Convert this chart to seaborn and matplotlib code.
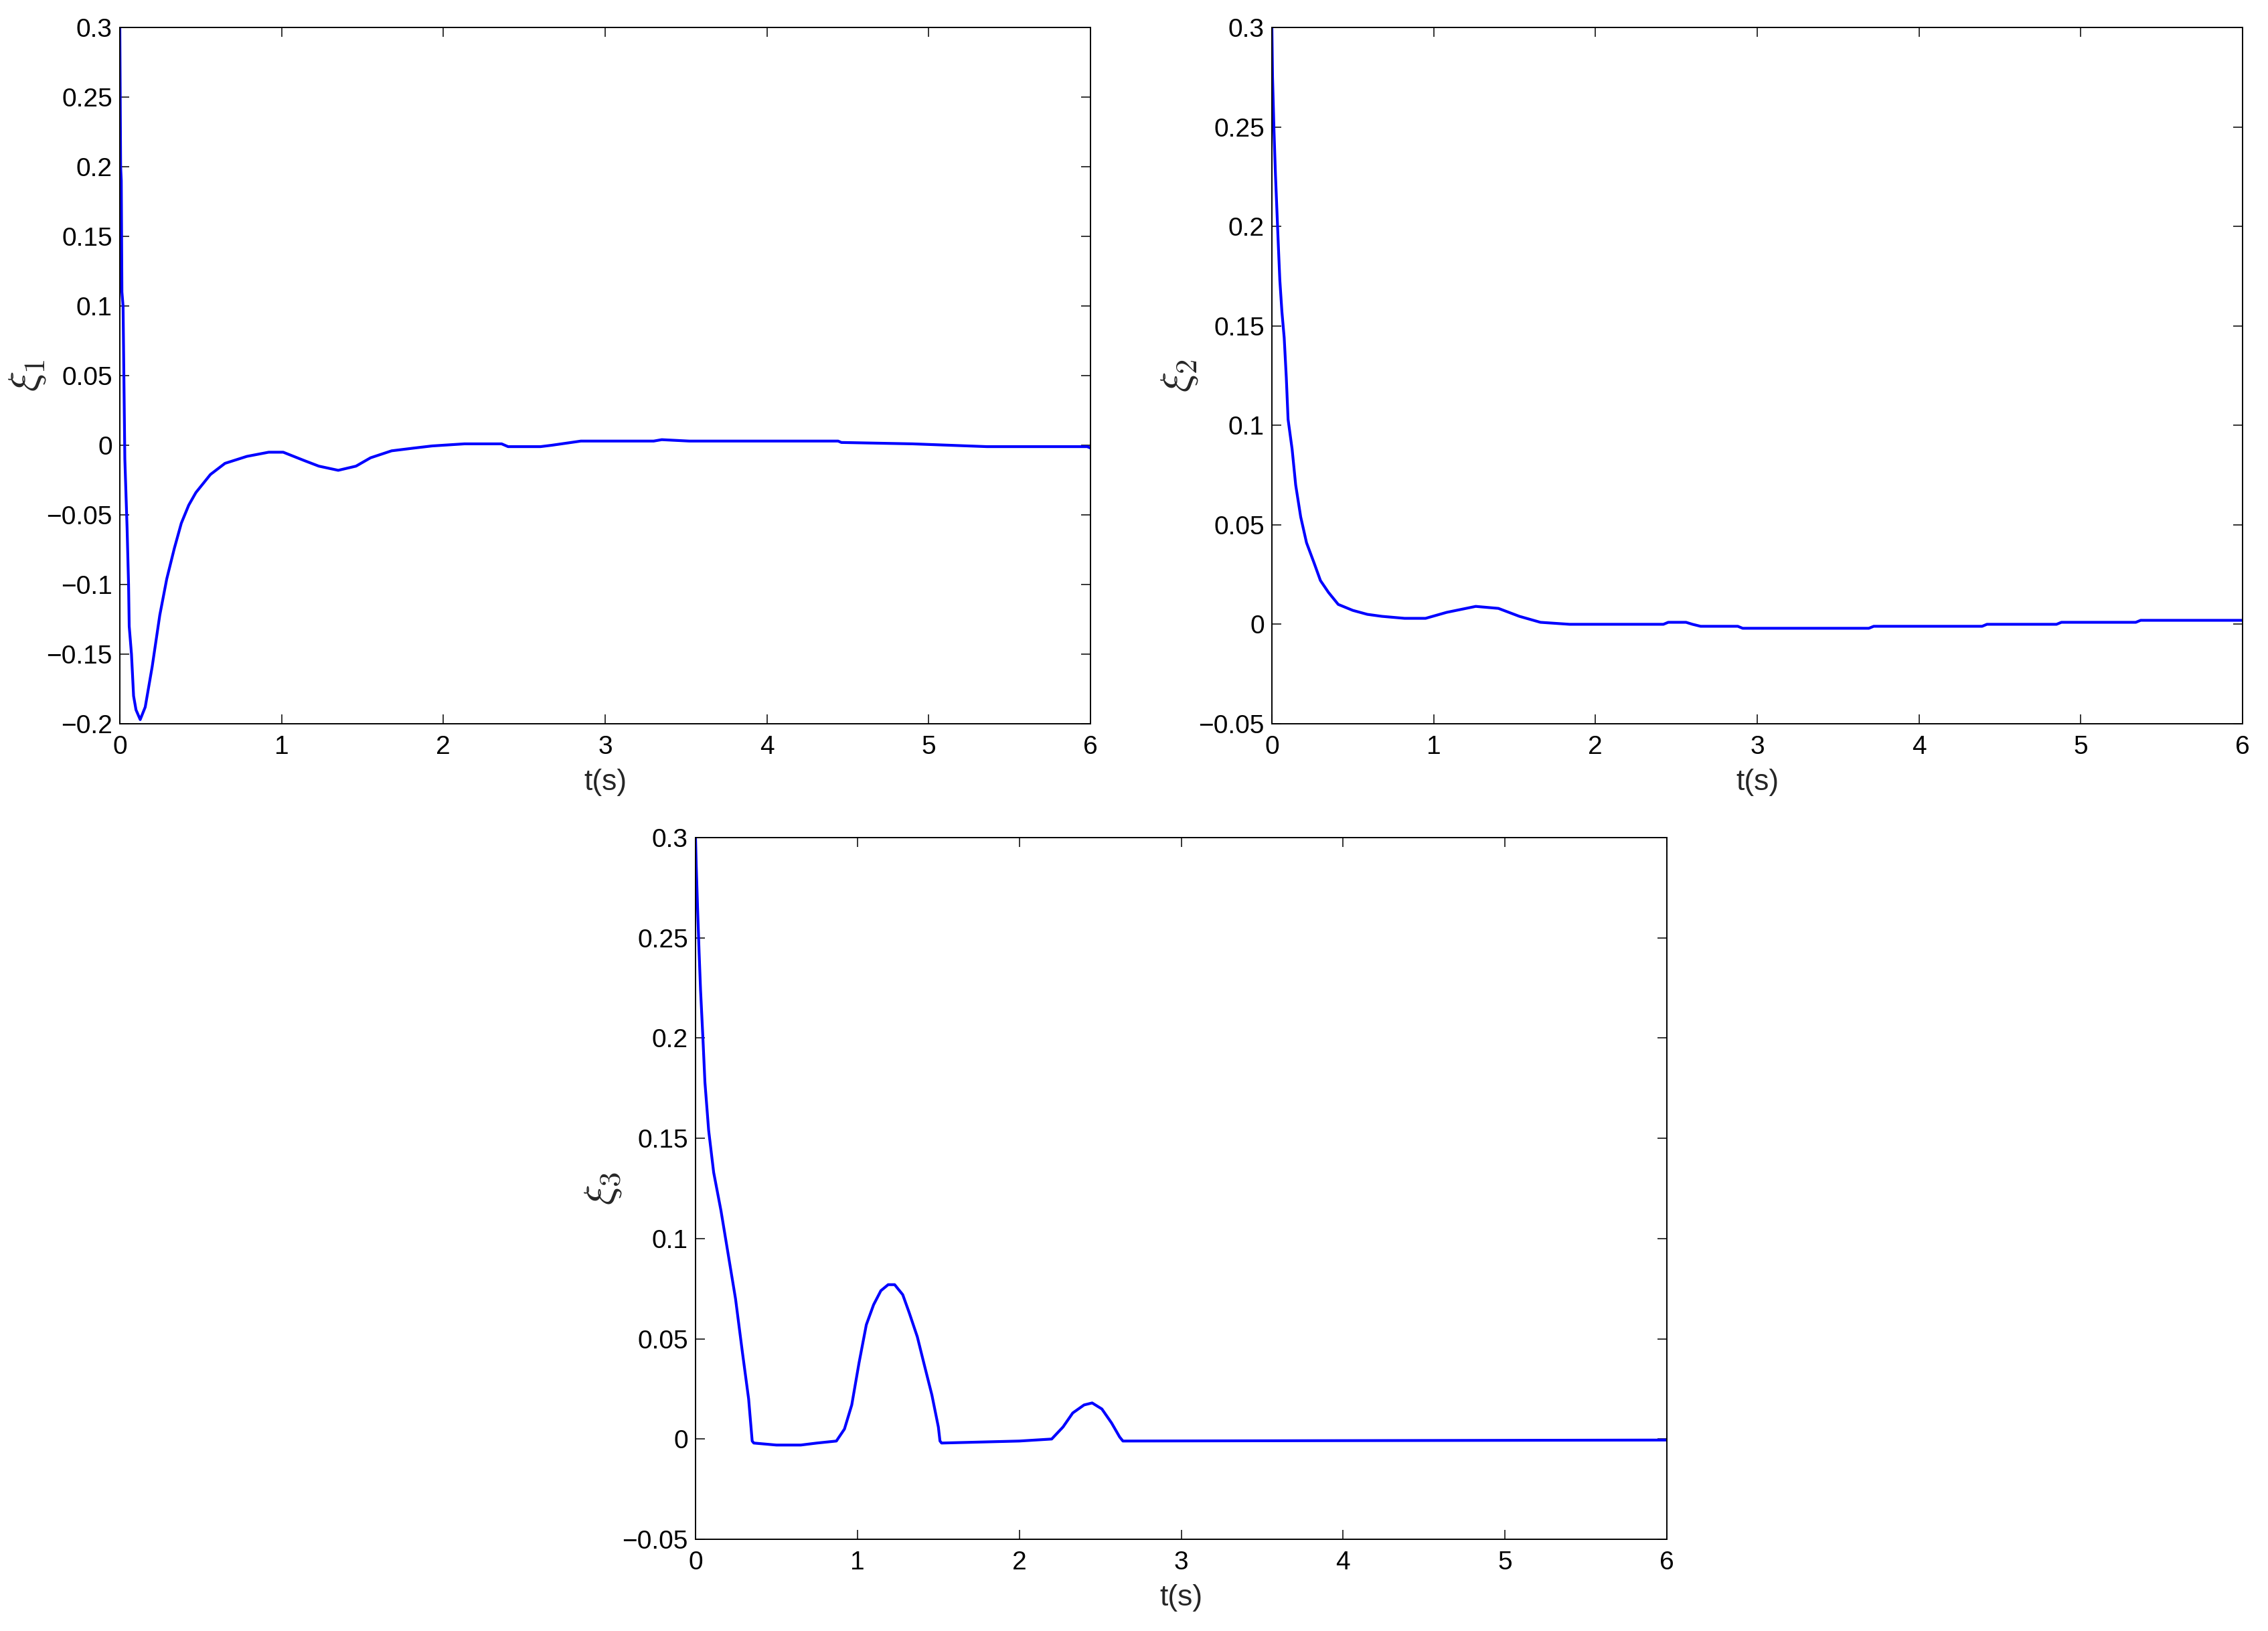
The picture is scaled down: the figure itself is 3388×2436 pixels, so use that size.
import matplotlib
matplotlib.use("Agg")
import numpy as np
import pandas as pd
import seaborn as sns
import matplotlib.pyplot as plt

# values (time in s)
t_xi1 = [0, 0.005, 0.009, 0.013, 0.02, 0.026, 0.031, 0.045, 0.054, 0.058, 0.072, 0.085, 0.1, 0.126,
         0.157, 0.2, 0.247, 0.29, 0.337, 0.38, 0.426, 0.47, 0.56, 0.65, 0.785, 0.92, 1.01, 1.14,
         1.23, 1.35, 1.46, 1.55, 1.68, 1.82, 1.93, 2.13, 2.36, 2.4, 2.6, 2.67, 2.85, 3.3, 3.35,
         3.52, 4.44, 4.46, 4.9, 5.36, 5.98, 6.0]
xi1 = [0.3, 0.2, 0.19, 0.11, 0.1, 0.04, -0.01, -0.06, -0.1, -0.13, -0.15, -0.18, -0.19, -0.197,
       -0.188, -0.159, -0.122, -0.096, -0.074, -0.056, -0.043, -0.034, -0.021, -0.013, -0.008, -0.005, -0.005, -0.011,
       -0.015, -0.018, -0.015, -0.009, -0.004, -0.002, -0.0005, 0.001, 0.001, -0.001, -0.001, 0.0, 0.003, 0.003, 0.004,
       0.003, 0.003, 0.002, 0.001, -0.001, -0.001, -0.002]

t_xi2 = [0, 0.004, 0.013, 0.022, 0.031, 0.04, 0.049, 0.062, 0.076, 0.089, 0.1, 0.125, 0.147, 0.178,
         0.214, 0.26, 0.3, 0.35, 0.41, 0.5, 0.59, 0.68, 0.82, 0.95, 1.08, 1.26, 1.4, 1.53, 1.66,
         1.84, 2.42, 2.45, 2.56, 2.6, 2.65, 2.88, 2.91, 3.69, 3.72, 4.39, 4.42, 4.85, 4.88, 5.34,
         5.37, 6.0]
xi2 = [0.3, 0.275, 0.248, 0.226, 0.208, 0.19, 0.173, 0.157, 0.144, 0.124, 0.103, 0.088, 0.07, 0.054,
       0.041, 0.031, 0.022, 0.016, 0.01, 0.007, 0.005, 0.004, 0.003, 0.003, 0.006, 0.009, 0.008, 0.004, 0.001,
       0.0, 0.0, 0.001, 0.001, 0.0, -0.001, -0.001, -0.002, -0.002, -0.001, -0.001, 0.0, 0.0, 0.001, 0.001,
       0.002, 0.002]

t_xi3 = [0, 0.004, 0.013, 0.022, 0.031, 0.045, 0.058, 0.081, 0.112, 0.157, 0.2, 0.247, 0.29, 0.328,
         0.35, 0.36, 0.5, 0.65, 0.75, 0.87, 0.92, 0.965, 1.01, 1.055, 1.1, 1.145, 1.19, 1.23, 1.28,
         1.32, 1.37, 1.41, 1.46, 1.5, 1.51, 1.52, 2.0, 2.2, 2.27, 2.33, 2.4, 2.45, 2.51, 2.57, 2.62,
         2.64, 6.0]
xi3 = [0.3, 0.287, 0.264, 0.243, 0.224, 0.201, 0.178, 0.154, 0.133, 0.114, 0.093, 0.07, 0.043, 0.02,
       -0.001, -0.002, -0.003, -0.003, -0.002, -0.001, 0.005, 0.017, 0.038, 0.057, 0.067, 0.074, 0.077, 0.077, 0.072,
       0.063, 0.051, 0.038, 0.022, 0.006, -0.001, -0.002, -0.001, 0.0, 0.006, 0.013, 0.017, 0.018, 0.015, 0.008, 0.001,
       -0.001, -0.0005]

xticks = [0, 1, 2, 3, 4, 5, 6]
yticks_1 = [-0.2, -0.15, -0.1, -0.05, 0, 0.05, 0.1, 0.15, 0.2, 0.25, 0.3]
ylabels_1 = ["\u22120.2", "\u22120.15", "\u22120.1", "\u22120.05", "0", "0.05", "0.1", "0.15", "0.2", "0.25", "0.3"]
yticks_23 = [-0.05, 0, 0.05, 0.1, 0.15, 0.2, 0.25, 0.3]
ylabels_23 = ["\u22120.05", "0", "0.05", "0.1", "0.15", "0.2", "0.25", "0.3"]

sns.set_theme(style="ticks")
plt.rcParams["font.family"] = ["Liberation Sans", "DejaVu Sans"]
plt.rcParams["mathtext.fontset"] = "cm"

fig = plt.figure(figsize=(33.88, 24.36), dpi=100)
W, H = 3388, 2436

panels = [
    ([179, 41, 1450, 1040], t_xi1, xi1, yticks_1, ylabels_1, r"$\xi_1$"),
    ([1900, 41, 1450, 1040], t_xi2, xi2, yticks_23, ylabels_23, r"$\xi_2$"),
    ([1039, 1251, 1451, 1048], t_xi3, xi3, yticks_23, ylabels_23, r"$\xi_3$"),
]

for (px, py, pw, ph), t, v, yt, yl, lab in panels:
    ax = fig.add_axes([px / W, 1 - (py + ph) / H, pw / W, ph / H])
    df = pd.DataFrame({"t": t, "v": v})
    sns.lineplot(data=df, x="t", y="v", ax=ax, color="#0000ff", linewidth=3,
                 estimator=None, sort=False)
    ax.set_xlim(0, 6)
    ax.set_ylim(yt[0], yt[-1])
    ax.set_xticks(xticks)
    ax.set_xticklabels([str(x) for x in xticks])
    ax.set_yticks(yt)
    ax.set_yticklabels(yl)
    ax.tick_params(direction="in", top=True, right=True, length=10, width=1.1,
                   labelsize=28, colors="black")
    ax.tick_params(axis="x", pad=12)
    ax.tick_params(axis="y", pad=8)
    for s in ax.spines.values():
        s.set_linewidth(1.4)
        s.set_color("black")
    ax.set_xlabel("t(s)", fontsize=32)
    ax.set_ylabel(lab, fontsize=46)
    ax.xaxis.set_label_coords(0.5, -67 / ph)
    ax.yaxis.set_label_coords(-108 / pw, 0.5)

fig.savefig("out.png", dpi=100)
